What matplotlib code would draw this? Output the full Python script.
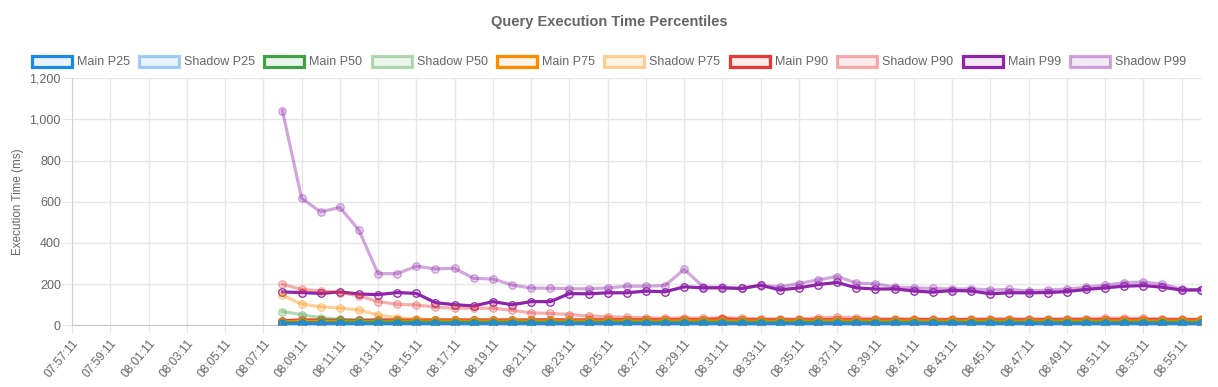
import matplotlib
matplotlib.use("Agg")
import matplotlib.pyplot as plt
import numpy as np
from matplotlib.patches import Rectangle
from matplotlib.ticker import FuncFormatter, MultipleLocator
from matplotlib.colors import to_rgba

plt.rcParams['font.family'] = ['Liberation Sans', 'DejaVu Sans']

# category axis (one per minute), data starts at 08:08:11
times = ["07:57:11", "07:58:11", "07:59:11", "08:00:11", "08:01:11", "08:02:11", "08:03:11", "08:04:11",
         "08:05:11", "08:06:11", "08:07:11", "08:08:11", "08:09:11", "08:10:11", "08:11:11", "08:12:11",
         "08:13:11", "08:14:11", "08:15:11", "08:16:11", "08:17:11", "08:18:11", "08:19:11", "08:20:11",
         "08:21:11", "08:22:11", "08:23:11", "08:24:11", "08:25:11", "08:26:11", "08:27:11", "08:28:11",
         "08:29:11", "08:30:11", "08:31:11", "08:32:11", "08:33:11", "08:34:11", "08:35:11", "08:36:11",
         "08:37:11", "08:38:11", "08:39:11", "08:40:11", "08:41:11", "08:42:11", "08:43:11", "08:44:11",
         "08:45:11", "08:46:11", "08:47:11", "08:48:11", "08:49:11", "08:50:11", "08:51:11", "08:52:11",
         "08:53:11", "08:54:11", "08:55:11", "08:56:11"]
first_time = "08:08:11"

main_p25 = [7, 7, 7, 6, 6, 6, 6, 6, 6, 6, 6, 6, 6, 6, 6, 6, 6, 6, 6, 6, 6, 6, 6, 6, 6, 6, 6, 6, 6, 6,
            6, 6, 6, 6, 6, 6, 6, 6, 6, 6, 6, 6, 6, 6, 6, 6, 6, 6, 6]
shadow_p25 = [8, 6, 6, 5, 5, 5, 5, 5, 5, 5, 5, 5, 5, 5, 5, 5, 5, 5, 5, 5, 5, 5, 5, 5, 5, 5, 5, 5, 5, 5,
              5, 5, 5, 5, 5, 5, 5, 5, 5, 5, 5, 5, 5, 5, 5, 5, 5, 5, 5]
main_p50 = [12, 13, 12, 12, 12, 12, 12, 12, 12, 12, 12, 12, 12, 12, 12, 12, 12, 12, 12, 12, 12, 12, 12, 12, 12,
            12, 12, 12, 12, 12, 12, 12, 12, 12, 12, 12, 12, 12, 12, 12, 12, 12, 12, 12, 12, 12, 12, 12, 12]
shadow_p50 = [67, 52, 37, 29, 24, 21, 19, 18, 18, 17, 17, 17, 17, 17, 17, 17, 17, 17, 17, 17, 17, 17, 17, 17, 17,
              17, 17, 17, 17, 17, 17, 17, 17, 17, 17, 17, 17, 17, 17, 17, 17, 17, 17, 17, 17, 17, 17, 17, 17]
main_p75 = [18, 20, 19, 19, 19, 19, 19, 19, 19, 19, 19, 19, 19, 19, 19, 19, 19, 19, 19, 19, 19, 20, 19, 20, 19,
            19, 19, 19, 19, 20, 19, 19, 19, 19, 19, 19, 19, 19, 19, 19, 19, 19, 19, 19, 20, 20, 19, 19, 19]
shadow_p75 = [146, 103, 90, 84, 74, 50, 37, 30, 28, 27, 26, 26, 26, 25, 25, 25, 25, 25, 25, 25, 25, 26, 25, 25, 25,
              25, 25, 25, 25, 26, 25, 25, 25, 25, 25, 25, 25, 25, 25, 25, 25, 25, 25, 26, 26, 26, 25, 25, 25]
main_p90 = [22, 26, 26, 25, 25, 26, 26, 26, 26, 26, 26, 26, 26, 26, 27, 26, 27, 27, 27, 27, 27, 28, 27, 31, 27,
            27, 27, 26, 27, 28, 27, 27, 27, 27, 27, 27, 27, 27, 27, 27, 27, 27, 27, 28, 28, 28, 27, 27, 27]
shadow_p90 = [199, 175, 167, 159, 144, 115, 102, 99, 88, 83, 83, 83, 73, 60, 58, 52, 46, 42, 39, 37, 34, 37, 34,
              37, 34, 32, 31, 31, 36, 40, 37, 32, 31, 31, 30, 30, 31, 32, 32, 31, 31, 32, 33, 35, 35, 34, 32, 31, 30]
main_p99 = [162, 159, 155, 162, 152, 149, 159, 155, 110, 100, 94, 115, 100, 115, 115, 154, 153, 158, 158, 166,
            163, 187, 182, 182, 179, 195, 172, 182, 198, 208, 182, 176, 177, 167, 161, 169, 167, 153, 158, 158,
            159, 164, 174, 182, 190, 193, 185, 171, 172]
shadow_p99 = [1043, 617, 551, 573, 462, 251, 251, 287, 274, 277, 228, 225, 196, 181, 180, 178, 177, 182, 190, 190,
              193, 272, 187, 184, 179, 193, 187, 203, 221, 237, 205, 202, 185, 182, 179, 176, 177, 172, 174, 167,
              171, 176, 185, 195, 207, 210, 200, 176, 172]

labels = ["Main P25", "Shadow P25", "Main P50", "Shadow P50", "Main P75",
          "Shadow P75", "Main P90", "Shadow P90", "Main P99", "Shadow P99"]
series = [main_p25, shadow_p25, main_p50, shadow_p50, main_p75,
          shadow_p75, main_p90, shadow_p90, main_p99, shadow_p99]
colors = ["#1E88E5", "#1E88E5", "#43A047", "#43A047", "#FB8C00",
          "#FB8C00", "#E53935", "#E53935", "#8E24AA", "#8E24AA"]

grid_c = "#e6e6e6"
text_c = "#666666"

fig = plt.figure(figsize=(12.18, 3.87), dpi=100)
ax = fig.add_axes([72 / 1218, 1 - 325.3 / 387, (1200.7 - 72) / 1218, (325.3 - 78.3) / 387])

start = times.index(first_time)
x = np.arange(start, start + len(main_p25))

handles = []
for i, (lab, vals, c) in enumerate(zip(labels, series, colors)):
    shadow = lab.startswith("Shadow")
    a = 0.4 if shadow else 1.0
    line_c = to_rgba(c, a)
    face_c = to_rgba(c, 0.2 if shadow else 0.1)
    ax.plot(x, vals, color=line_c, lw=2.3, marker="o", ms=5.4,
            mfc=face_c, mec=line_c, mew=0.9, zorder=30 - i, solid_joinstyle="round")
    handles.append(Rectangle((0, 0), 1, 1, facecolor=to_rgba(c, 0.1),
                             edgecolor=line_c, lw=2.3))

ax.set_xlim(0, len(times) - 1)
ax.set_ylim(0, 1200)
ax.yaxis.set_major_locator(MultipleLocator(200))
ax.yaxis.set_major_formatter(FuncFormatter(lambda v, _: f"{int(v):,}"))
ax.set_xticks(np.arange(0, len(times), 2))
ax.set_xticklabels(times[::2], rotation=50, ha="right", rotation_mode="anchor")

ax.grid(True, color=grid_c, lw=1)
ax.set_axisbelow(True)
for s in ["top", "right"]:
    ax.spines[s].set_visible(False)
ax.spines["left"].set_color("#d0d0d0")
ax.spines["bottom"].set_color("#c8c8c8")
ax.tick_params(axis="x", length=6, color=grid_c, labelcolor=text_c, labelsize=8.6, pad=3)
ax.tick_params(axis="y", length=7, color=grid_c, labelcolor=text_c, labelsize=9, pad=1)

ax.set_ylabel("Execution Time (ms)", color=text_c, fontsize=8.4, labelpad=4)

fig.text(0.5, 1 - 22 / 387, "Query Execution Time Percentiles", ha="center", va="center",
         fontsize=10.5, fontweight="bold", color=text_c)

fig.legend(handles, labels, loc="center", bbox_to_anchor=(0.5, 1 - 62 / 387), ncol=10,
           frameon=False, fontsize=9, handlelength=3.2, handleheight=1.0,
           handletextpad=0.4, columnspacing=0.75, labelcolor=text_c, borderaxespad=0)

fig.savefig("out.png", dpi=100)
